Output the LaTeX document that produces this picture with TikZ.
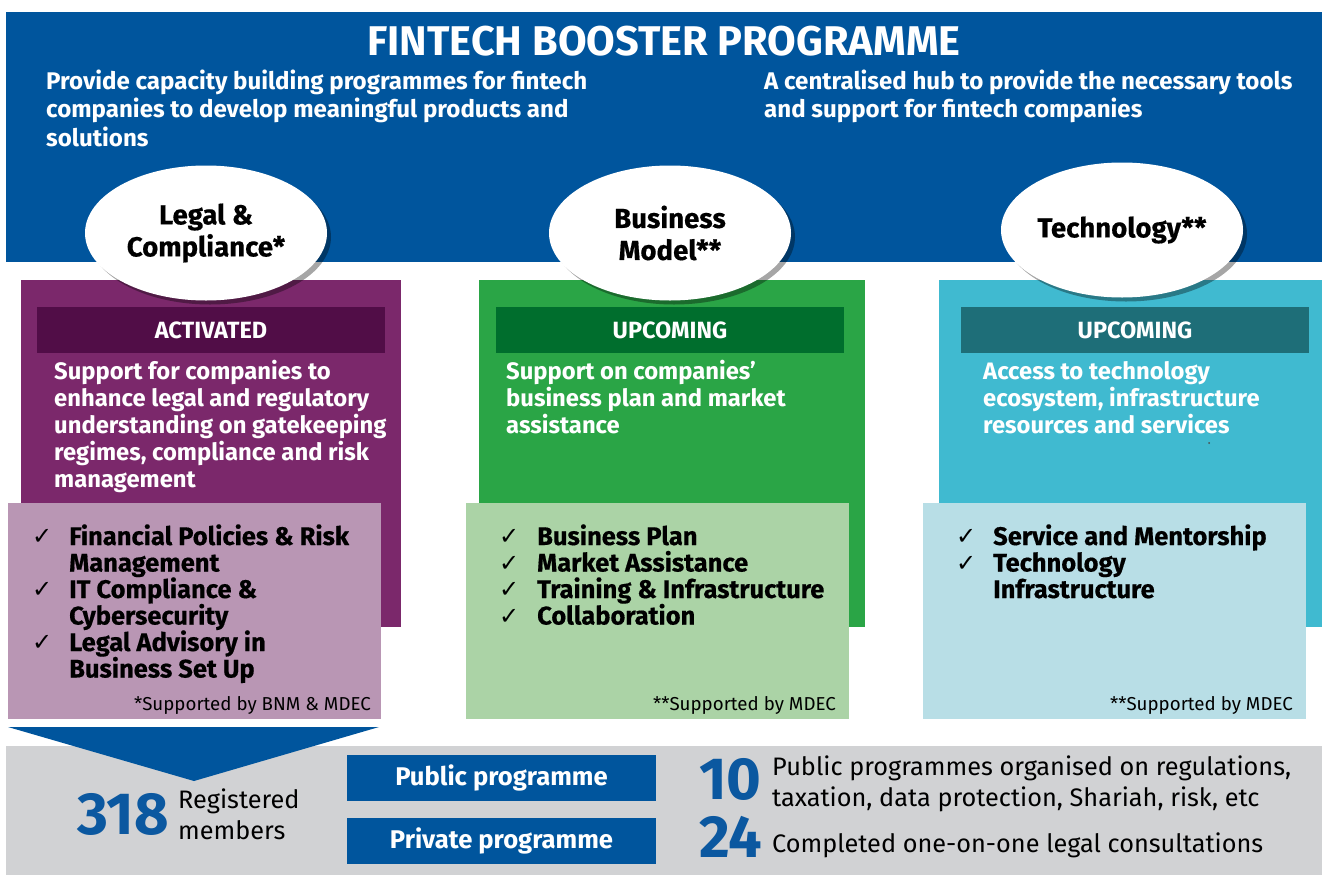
\documentclass[tikz,border=0pt]{standalone}
\usepackage{fontspec}
\setmainfont{Fira Sans}
\newfontfamily\heavy[FakeBold=0.5]{Fira Sans}
\newfontfamily\symf{DejaVu Sans}
\usetikzlibrary{shapes.geometric,shadows}
\definecolor{hdrblue}{HTML}{00559D}
\definecolor{numblue}{HTML}{0B58A0}
\definecolor{bandgrey}{HTML}{D1D2D4}
\definecolor{purmain}{HTML}{7B286B}
\definecolor{purdark}{HTML}{510D47}
\definecolor{purlight}{HTML}{B996B4}
\definecolor{grnmain}{HTML}{2AA546}
\definecolor{grndark}{HTML}{006E2D}
\definecolor{grnlight}{HTML}{ABD3A6}
\definecolor{tealmain}{HTML}{40BAD0}
\definecolor{tealdark}{HTML}{1E6E78}
\definecolor{teallight}{HTML}{B8DEE6}
\newcommand\fixskip{\lineskiplimit=-100pt\lineskip=0pt}
\tikzset{
  bubble/.style={ellipse, fill=white, minimum width=242pt, minimum height=135pt, inner sep=0pt, align=center,
    font=\heavy\bfseries\fontsize{27.6}{32}\selectfont\fixskip,
    drop shadow={shadow xshift=4pt, shadow yshift=-4pt, opacity=0.35, fill=black}},
  statusbar/.style={rectangle, minimum width=348pt, minimum height=46pt, inner sep=0pt, text=white,
    font=\bfseries\fontsize{23.5}{23.5}\selectfont},
  bodytext/.style={anchor=base west, inner sep=0pt, align=left, text=white,
    font=\bfseries\fontsize{23.8}{27}\selectfont\fixskip},
  listtext/.style={anchor=base west, inner sep=0pt, align=left, text=black,
    font=\heavy\bfseries\fontsize{25.5}{26.5}\selectfont\fixskip},
  tick/.style={anchor=base west, inner sep=0pt, font=\symf\fontsize{24}{24}\selectfont},
  footnote/.style={anchor=base east, inner sep=0pt, font=\fontsize{18.7}{18.7}\selectfont},
  progbox/.style={rectangle, fill=hdrblue, minimum width=309pt, minimum height=46pt, inner sep=0pt, text=white,
    font=\bfseries\fontsize{25.6}{25.6}\selectfont},
  bignum/.style={anchor=base west, inner sep=0pt, text=numblue, font=\bfseries\fontsize{59.5}{59.5}\selectfont},
  stattext/.style={anchor=base west, inner sep=0pt, align=left, font=\fontsize{25.3}{31}\selectfont\fixskip},
  headtext/.style={anchor=base west, inner sep=0pt, align=left, text=white, font=\bfseries\fontsize{24.1}{28.5}\selectfont\fixskip}
}
\begin{document}
\begin{tikzpicture}[x=1pt,y=-1pt]
\useasboundingbox (0,0) rectangle (1324,875);
\fill[white] (0,0) rectangle (1324,875);
% header
\fill[hdrblue] (6,12) rectangle (1322,262);
\node[anchor=base, inner sep=0pt, text=white, font=\bfseries\fontsize{41.5}{41.5}\selectfont] (title) at (664,56) {FINTECH BOOSTER PROGRAMME};
\node[headtext] (subl) at (46,146)
  {Provide capacity building programmes for fintech\\companies to develop meaningful products and\\solutions};
\node[headtext] (subr) at (764,117.5)
  {A centralised hub to provide the necessary tools\\and support for fintech companies};
% columns
\fill[purmain] (21,280) rectangle (401,627);
\fill[grnmain] (479,280) rectangle (865,627);
\fill[tealmain] (939,280) rectangle (1322,627);
\node[statusbar, fill=purdark] (st1) at (211,330) {ACTIVATED};
\node[statusbar, fill=grndark] (st2) at (670,330) {UPCOMING};
\node[statusbar, fill=tealdark] (st3) at (1135,330) {UPCOMING};
\node[bodytext] (bd1) at (54,487) {Support for companies to\\enhance legal and regulatory\\understanding on gatekeeping\\regimes, compliance and risk\\management};
\node[bodytext] (bd2) at (506,433) {Support on companies’\\business plan and market\\assistance};
\node[bodytext] (bd3) at (983,433) {Access to technology\\ecosystem, infrastructure\\resources and services};
\fill[black!70] (1209,443) circle (1);
% light boxes
\fill[purlight] (8,503) rectangle (381,719);
\fill[grnlight] (466,503) rectangle (849,719);
\fill[teallight] (923,503) rectangle (1306,719);
% lists
\node[tick] (t11) at (32,544) {✓};
\node[tick] (t12) at (32,597) {✓};
\node[tick] (t13) at (32,650) {✓};
\node[listtext] (ls1) at (69,677.5) {Financial Policies \& Risk\\Management\\IT Compliance \&\\Cybersecurity\\Legal Advisory in\\Business Set Up};
\node[tick] (t21) at (499,544) {✓};
\node[tick] (t22) at (499,571) {✓};
\node[tick] (t23) at (499,597) {✓};
\node[tick] (t24) at (499,624) {✓};
\node[listtext] (ls2) at (537,624.5) {Business Plan\\Market Assistance\\Training \& Infrastructure\\Collaboration};
\node[tick] (t31) at (956,544) {✓};
\node[tick] (t32) at (956,571) {✓};
\node[listtext] (ls3) at (993,598) {Service and Mentorship\\Technology\\Infrastructure};
\node[footnote] (fn1) at (371,710) {*Supported by BNM \& MDEC};
\node[footnote] (fn2) at (836,710) {**Supported by MDEC};
\node[footnote] (fn3) at (1293,710) {**Supported by MDEC};
% bubbles
\node[bubble] (b1) at (206,233) {Legal \&\\Compliance*};
\node[bubble] (b2) at (670,233) {Business\\Model**};
\node[bubble] (b3) at (1122,230) {Technology**};
% bottom band
\fill[bandgrey] (6,746) rectangle (1322,875);
\fill[hdrblue] (8,727) -- (379,727) -- (194,781) -- cycle;
\node[bignum] (n318) at (77,834) {318};
\node[stattext] (reg) at (178,839) {Registered\\members};
\node[progbox] (pub) at (501.5,778) {Public programme};
\node[progbox] (priv) at (501.5,841) {Private programme};
\node[bignum] (n10) at (699,799) {10};
\node[bignum] (n24) at (699,857) {24};
\node[stattext] (s10) at (772,806) {Public programmes organised on regulations,\\taxation, data protection, Shariah, risk, etc};
\node[stattext] (s24) at (772,852) {Completed one-on-one legal consultations};
\end{tikzpicture}
\end{document}
